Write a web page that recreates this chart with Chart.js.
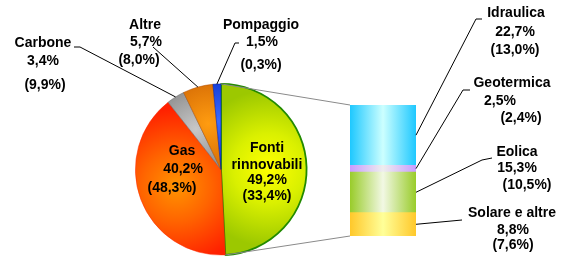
<!DOCTYPE html>
<html><head><meta charset="utf-8">
<script src="https://cdn.jsdelivr.net/npm/chart.js@4/dist/chart.umd.min.js"></script>
<style>
html,body{margin:0;padding:0;background:#fff;}
#wrap{position:relative;width:571px;height:256px;overflow:hidden;}
canvas{position:absolute;left:0;top:0;}
</style>
</head><body>
<div id="wrap"><canvas id="pie" width="571" height="256"></canvas><canvas id="bar" width="571" height="256"></canvas></div>
<script>
// ---- data ----
const pieLabels = ['Fonti rinnovabili', 'Gas', 'Carbone', 'Altre', 'Pompaggio'];
const pieValues = [49.2, 40.2, 3.4, 5.7, 1.5];
const pieOldValues = [33.4, 48.3, 9.9, 8.0, 0.3];
const barLabels = ['Idraulica', 'Geotermica', 'Eolica', 'Solare e altre'];
const barValues = [22.7, 2.5, 15.3, 8.8];
const barOldValues = [13.0, 2.4, 10.5, 7.6];

// ---- styles ----
const FONT = 'bold 14px "Liberation Sans", Arial, sans-serif';
const pieInner = ['#ffff00', '#ff9400', '#c8c8c8', '#ff9c10', '#3a6cff'];
const pieMidC = ['#daf000', '#ff6400', '#999999', '#e07808', '#1a44dd'];
const pieOuter = ['#9cc800', '#ff2000', '#5e5e5e', '#b04a00', '#001a99'];
const pieBorder = ['#228a00', '#ff2a00', '#606060', '#b04a00', '#001a99'];
const barEdge = ['#1ec8ff', '#c89cff', '#99cc2a', '#ffc82a'];
const barMid = ['#ccffff', '#eeeeee', '#f2f8e4', '#ffff99'];

const fmt = v => v.toFixed(1).replace('.', ',') + '%';

function pieGradient(c) {
  const chart = c.chart, area = chart.chartArea, i = c.dataIndex;
  if (!area || i === undefined) return pieOuter[i || 0];
  const cx = (area.left + area.right) / 2, cy = (area.top + area.bottom) / 2;
  const r = Math.min(area.right - area.left, area.bottom - area.top) / 2;
  const total = pieValues.reduce((a, b) => a + b, 0);
  let before = 0;
  for (let k = 0; k < i; k++) before += pieValues[k];
  const mid = (before + pieValues[i] / 2) / total * 2 * Math.PI;
  const gx = cx + Math.sin(mid) * r * 0.55, gy = cy - Math.cos(mid) * r * 0.55;
  const g = chart.ctx.createRadialGradient(gx, gy, 0, gx, gy, r * 0.9);
  g.addColorStop(0, pieInner[i]);
  g.addColorStop(0.45, pieMidC[i]);
  g.addColorStop(1, pieOuter[i]);
  return g;
}

function txt(ctx, s, x, y) { ctx.fillText(s, x, y); }
function poly(ctx, pts, color) {
  ctx.save(); ctx.strokeStyle = color; ctx.lineWidth = 1; ctx.beginPath();
  ctx.moveTo(pts[0][0], pts[0][1]);
  for (let k = 1; k < pts.length; k++) ctx.lineTo(pts[k][0], pts[k][1]);
  ctx.stroke(); ctx.restore();
}

const pieLabelPlugin = {
  id: 'pieLabels',
  afterDatasetsDraw(chart) {
    const ctx = chart.ctx, arcs = chart.getDatasetMeta(0).data;
    const anchor = i => {
      const a = arcs[i], m = (a.startAngle + a.endAngle) / 2;
      return [a.x + Math.cos(m) * a.outerRadius, a.y + Math.sin(m) * a.outerRadius];
    };
    ctx.save();
    ctx.font = FONT; ctx.fillStyle = '#000'; ctx.textAlign = 'center'; ctx.textBaseline = 'middle';
    // inside labels
    txt(ctx, 'Fonti', 267, 148); txt(ctx, 'rinnovabili', 267, 165);
    txt(ctx, fmt(pieValues[0]), 267, 180); txt(ctx, '(' + fmt(pieOldValues[0]) + ')', 267, 196);
    txt(ctx, pieLabels[1], 182, 151); txt(ctx, fmt(pieValues[1]), 183, 169);
    txt(ctx, '(' + fmt(pieOldValues[1]) + ')', 172, 188);
    // outside labels
    txt(ctx, pieLabels[2], 43, 43); txt(ctx, fmt(pieValues[2]), 43, 61); txt(ctx, '(' + fmt(pieOldValues[2]) + ')', 45, 85);
    txt(ctx, pieLabels[3], 145, 25); txt(ctx, fmt(pieValues[3]), 146, 42); txt(ctx, '(' + fmt(pieOldValues[3]) + ')', 139, 60);
    txt(ctx, pieLabels[4], 261, 25); txt(ctx, fmt(pieValues[4]), 262, 42); txt(ctx, '(' + fmt(pieOldValues[4]) + ')', 261, 65);
    ctx.restore();
    poly(ctx, [[74, 47], [80, 47], anchor(2)], '#000');
    poly(ctx, [[153, 47], anchor(3)], '#000');
    poly(ctx, [[239, 43], [235, 43], anchor(4)], '#000');
  }
};

const pieChart = new Chart(document.getElementById('pie'), {
  type: 'pie',
  data: {
    labels: pieLabels,
    datasets: [{
      data: pieValues,
      backgroundColor: pieGradient,
      borderColor: pieBorder,
      borderWidth: [1.8, 0.5, 0.5, 0.5, 0.5],
      hoverOffset: 0, offset: 0
    }]
  },
  options: {
    responsive: false, animation: false,
    layout: { padding: { left: 134, right: 263, top: 83, bottom: -1 } },
    plugins: { legend: { display: false }, tooltip: { enabled: false } }
  },
  plugins: [pieLabelPlugin]
});

function barGradient(i) {
  return function (c) {
    const area = c.chart.chartArea;
    if (!area) return barEdge[i];
    const g = c.chart.ctx.createLinearGradient(area.left, 0, area.right, 0);
    g.addColorStop(0, barEdge[i]);
    g.addColorStop(0.5, barMid[i]);
    g.addColorStop(1, barEdge[i]);
    return g;
  };
}

const barLabelPlugin = {
  id: 'barLabels',
  afterDatasetsDraw(chart) {
    const ctx = chart.ctx;
    const area = chart.chartArea;
    // connectors from pie to bar
    const a0 = pieChart.getDatasetMeta(0).data[0];
    const top = [a0.x + Math.cos(a0.startAngle) * a0.outerRadius, a0.y + Math.sin(a0.startAngle) * a0.outerRadius];
    const bot = [a0.x + Math.cos(a0.endAngle) * a0.outerRadius, a0.y + Math.sin(a0.endAngle) * a0.outerRadius];
    poly(ctx, [top, [area.left, area.top]], '#8a8a8a');
    poly(ctx, [bot, [area.left, area.bottom]], '#8a8a8a');
    // anchors on bar right edge
    const anchor = i => {
      const di = barLabels.length - 1 - i;
      const el = chart.getDatasetMeta(di).data[0];
      return [el.x + el.width / 2, (el.y + el.base) / 2];
    };
    poly(ctx, [[482, 19], [476, 19], anchor(0)], '#000');
    poly(ctx, [[470, 90], [463, 90], anchor(1)], '#000');
    poly(ctx, [[492, 158], [482, 160], anchor(2)], '#000');
    poly(ctx, [[462, 220], anchor(3)], '#000');
    ctx.save();
    ctx.font = FONT; ctx.fillStyle = '#000'; ctx.textAlign = 'center'; ctx.textBaseline = 'middle';
    txt(ctx, barLabels[0], 516, 13); txt(ctx, fmt(barValues[0]), 515, 32); txt(ctx, '(' + fmt(barOldValues[0]) + ')', 515, 50);
    txt(ctx, barLabels[1], 512, 83); txt(ctx, fmt(barValues[1]), 500, 101); txt(ctx, '(' + fmt(barOldValues[1]) + ')', 521, 118);
    txt(ctx, barLabels[2], 517, 152); txt(ctx, fmt(barValues[2]), 517, 168); txt(ctx, '(' + fmt(barOldValues[2]) + ')', 527, 185);
    txt(ctx, barLabels[3], 512, 213); txt(ctx, fmt(barValues[3]), 513, 230); txt(ctx, '(' + fmt(barOldValues[3]) + ')', 513, 245);
    ctx.restore();
  }
};

const barTotal = barValues.reduce((a, b) => a + b, 0);
const barDatasets = barLabels.map((l, i) => ({
  label: l, data: [barValues[i]], backgroundColor: barGradient(i),
  borderWidth: 0, barPercentage: 1, categoryPercentage: 1
})).reverse();

new Chart(document.getElementById('bar'), {
  type: 'bar',
  data: { labels: ['Fonti rinnovabili'], datasets: barDatasets },
  options: {
    responsive: false, animation: false,
    layout: { padding: { left: 350, right: 155, top: 105, bottom: 20 } },
    scales: {
      x: { display: false, stacked: true },
      y: { display: false, stacked: true, min: 0, max: barTotal }
    },
    plugins: { legend: { display: false }, tooltip: { enabled: false } }
  },
  plugins: [barLabelPlugin]
});
</script>
</body></html>
